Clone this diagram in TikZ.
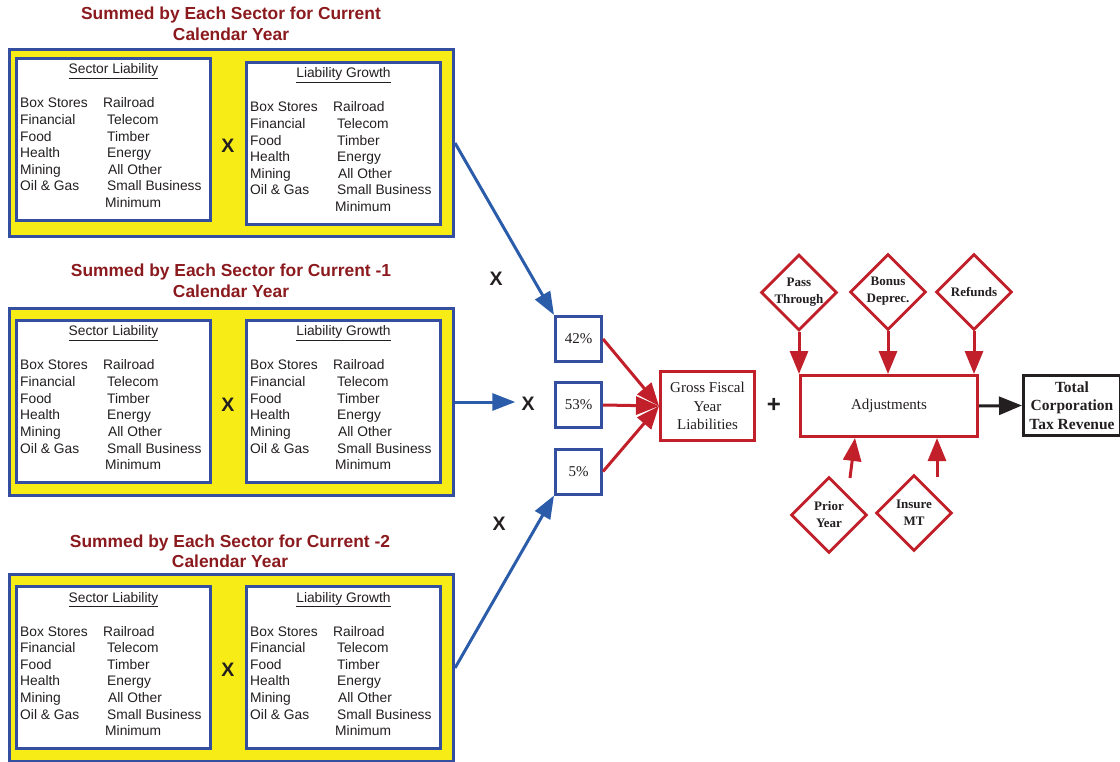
\documentclass[tikz,border=0pt]{standalone}
\usepackage{fontspec}
\setmainfont{Liberation Serif}
\newfontfamily\arialf{Liberation Sans}
\usetikzlibrary{arrows.meta,shapes.geometric,calc}
\definecolor{bblue}{RGB}{52,78,160}
\definecolor{ablue}{RGB}{42,92,170}
\definecolor{yfill}{RGB}{247,236,22}
\definecolor{rred}{RGB}{193,32,43}
\definecolor{tred}{RGB}{139,26,30}
\definecolor{ink}{RGB}{35,31,32}
\tikzset{
 outerbox/.style={draw=bblue, fill=yfill, line width=3pt, anchor=north west, inner sep=0},
 innerbox/.style={draw=bblue, fill=white, line width=3pt, anchor=north west, inner sep=0, minimum width=194pt, minimum height=162pt},
 rowtxt/.style={anchor=base west, inner sep=0, font=\arialf\fontsize{13.8}{16}\selectfont, text=ink},
 hdtxt/.style={anchor=base, inner sep=0, font=\arialf\fontsize{13.8}{16}\selectfont, text=ink},
 ttl/.style={anchor=base, inner sep=0, font=\arialf\bfseries\fontsize{17.4}{21}\selectfont, text=tred},
 bigx/.style={inner sep=0, font=\arialf\bfseries\fontsize{19.5}{19.5}\selectfont, text=ink},
 midx/.style={inner sep=0, font=\arialf\bfseries\fontsize{19.5}{20}\selectfont, text=ink},
 pctbox/.style={draw=bblue, fill=white, line width=3pt, minimum width=46pt, minimum height=45pt, inner sep=0, font=\fontsize{15}{18}\selectfont, text=ink},
 redbox/.style={draw=rred, fill=white, line width=3pt, inner sep=0, align=center, font=\fontsize{15}{18.5}\selectfont, text=ink},
 blackbox/.style={draw=ink, fill=white, line width=3pt, inner sep=0, align=center, font=\bfseries\fontsize{15.5}{18.5}\selectfont, text=ink},
 dia/.style={diamond, draw=rred, fill=white, line width=2.8pt, minimum width=76pt, minimum height=76pt, inner sep=0},
 diatxt/.style={align=center, inner sep=0, font=\bfseries\fontsize{13}{17}\selectfont, text=ink},
 barrow/.style={draw=ablue, line width=3pt, -{Triangle[length=23pt,width=17pt]}},
 rarrow/.style={draw=rred, line width=3pt, -{Triangle[length=23pt,width=18pt]}},
 karrow/.style={draw=ink, line width=3pt, -{Triangle[length=23pt,width=18pt]}}
}
\newcommand\sectbox[4]{%
  \node[innerbox] (#1) at (#2,#3) {};
  \node[hdtxt] (#1-h) at (#2+98.5,#3+17) {\underline{#4}};
  \foreach \t [count=\i from 0] in {Box Stores, Financial, Food, Health, Mining, Oil \& Gas}
    \node[rowtxt] (#1-l\i) at (#2+5,#3+51+\i*16.6) {\t};
  \foreach \t/\dx [count=\i from 0] in {Railroad/88, Telecom/92, Timber/92, Energy/92, All Other/93, Small Business/92, Minimum/90}
    \node[rowtxt] (#1-r\i) at (#2+\dx,#3+51+\i*16.6) {\t};
}
\begin{document}
\begin{tikzpicture}[x=1pt,y=-1pt]
\useasboundingbox (0,0) rectangle (1120,762);
% titles
\node[ttl] (t1a) at (231,19.2) {Summed by Each Sector for Current};
\node[ttl] (t1b) at (231,40.2) {Calendar Year};
\node[ttl] (t2a) at (231,276.2) {Summed by Each Sector for Current -1};
\node[ttl] (t2b) at (231,297.2) {Calendar Year};
\node[ttl] (t3a) at (230,547.2) {Summed by Each Sector for Current -2};
\node[ttl] (t3b) at (230,567.2) {Calendar Year};
% yellow boxes
\node[outerbox, minimum width=444pt, minimum height=187pt] (box1) at (8,48) {};
\node[outerbox, minimum width=444pt, minimum height=187pt] (box2) at (8,307) {};
\node[outerbox, minimum width=444pt, minimum height=187pt] (box3) at (8,573) {};
\sectbox{sl1}{15}{57}{Sector Liability}
\sectbox{lg1}{245}{61}{Liability Growth}
\sectbox{sl2}{15}{319}{Sector Liability}
\sectbox{lg2}{245}{319}{Liability Growth}
\sectbox{sl3}{15}{585}{Sector Liability}
\sectbox{lg3}{245}{585}{Liability Growth}
\node[bigx] (x1) at (228,146) {X};
\node[bigx] (x2) at (228,405) {X};
\node[bigx] (x3) at (228,670) {X};
% percentages
\node[pctbox] (p42) at (578.5,339) {42\%};
\node[pctbox] (p53) at (578.5,405) {53\%};
\node[pctbox] (p5) at (578.5,471.5) {5\%};
\node[midx] (mx1) at (496,279) {X};
\node[midx] (mx2) at (528,404) {X};
\node[midx] (mx3) at (499,524) {X};
\draw[barrow] (box1.east) -- (p42.north west);
\draw[barrow] (box3.east) -- (p5.south west);
\draw[barrow, shorten >=6pt] (box2.east) -- (box2.east -| mx2.west);
% gross
\node[redbox, minimum width=94pt, minimum height=69pt] (gross) at (707.5,406) {Gross Fiscal\\Year\\Liabilities};
\draw[rarrow] (p42.east) -- (gross.west);
\draw[rarrow] (p53.east) -- (gross.west);
\draw[rarrow] (p5.east) -- (gross.west);
\node[inner sep=0, font=\arialf\bfseries\fontsize{24}{24}\selectfont, text=ink] (plus) at (774,405) {+};
% adjustments
\node[redbox, minimum width=177pt, minimum height=61pt] (adj) at (889,406) {Adjustments};
\node[blackbox, minimum width=97pt, minimum height=60pt] (total) at (1072,405.5) {Total\\Corporation\\Tax Revenue};
\draw[karrow] (adj.east) -- (total.west);
% diamonds
\node[dia] (pass) at (799,292.5) {};
\node[diatxt] (passt) at (799,292) {Pass\\Through};
\node[dia] (bonus) at (888,292) {};
\node[diatxt] (bonust) at (888,291.5) {Bonus\\Deprec.};
\node[dia] (ref) at (974,292) {};
\node[diatxt] (reft) at (974,292) {Refunds};
\node[dia] (prior) at (829,515) {};
\node[diatxt] (priort) at (829,515) {Prior\\Year};
\node[dia] (ins) at (914,513) {};
\node[diatxt] (inst) at (914,513) {Insure\\MT};
\draw[rarrow] (pass.south) -- (pass.south |- adj.north);
\draw[rarrow] (bonus.south) -- (bonus.south |- adj.north);
\draw[rarrow] (ref.south) -- (ref.south |- adj.north);
\coordinate (pyS) at (850,478);
\coordinate (inS) at (937,477);
\draw[rarrow] (pyS) -- ($(adj.south)+(-34,0)$);
\draw[rarrow] (inS) -- (inS |- adj.south);
\end{tikzpicture}
\end{document}
